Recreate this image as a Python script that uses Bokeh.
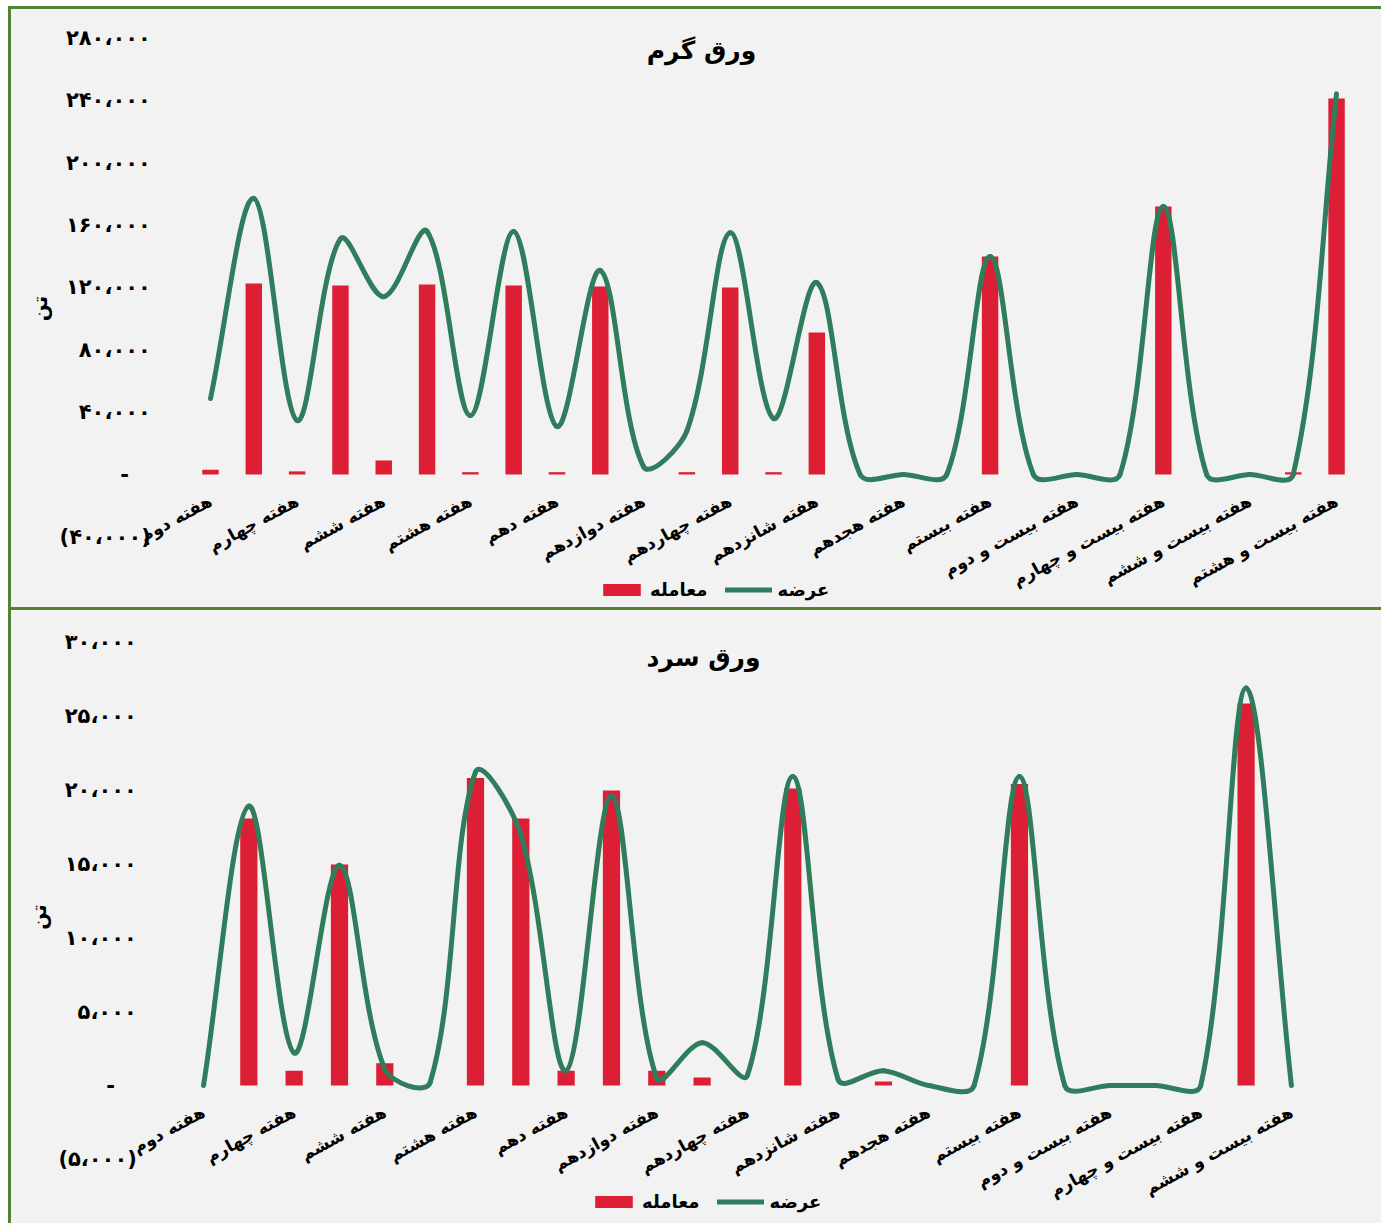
import math
from bokeh.plotting import figure
from bokeh.models import FixedTicker, Label, Legend, LegendItem
from bokeh.layouts import column
from bokeh.embed import file_html
from bokeh.resources import INLINE

FONT = "DejaVu Sans"

# ---------------- data ----------------
hot_weeks = ["هفته دوم", "هفته سوم", "هفته چهارم", "هفته پنجم", "هفته ششم", "هفته هفتم",
             "هفته هشتم", "هفته نهم", "هفته دهم", "هفته یازدهم", "هفته دوازدهم", "هفته سیزدهم",
             "هفته چهاردهم", "هفته پانزدهم", "هفته شانزدهم", "هفته هفدهم", "هفته هجدهم",
             "هفته نوزدهم", "هفته بیستم", "هفته بیست و یکم", "هفته بیست و دوم",
             "هفته بیست و سوم", "هفته بیست و چهارم", "هفته بیست و پنجم", "هفته بیست و ششم",
             "هفته بیست و هفتم", "هفته بیست و هشتم"]
hot_trade = [3000, 122400, 2000, 121200, 9000, 121800, 1500, 121200, 1500, 120500, 0, 1500,
             119900, 1500, 91000, 0, 0, 0, 139700, 0, 0, 0, 171800, 0, 0, 1500, 241000]
hot_supply = [48700, 177000, 34600, 151000, 114000, 155800, 37800, 155800, 30800, 130800, 5000,
              28000, 155000, 35900, 123000, 0, 0, 0, 139700, 0, 0, 0, 171800, 0, 0, 0, 244000]
hot_yticks = [-40000, 0, 40000, 80000, 120000, 160000, 200000, 240000, 280000]
hot_ylabels = ["(۴۰،۰۰۰)", "-\u00a0\u00a0\u00a0", "۴۰،۰۰۰", "۸۰،۰۰۰", "۱۲۰،۰۰۰", "۱۶۰،۰۰۰",
               "۲۰۰،۰۰۰", "۲۴۰،۰۰۰", "۲۸۰،۰۰۰"]

cold_weeks = hot_weeks[:25]
cold_trade = [0, 18060, 1000, 14950, 1500, 0, 20800, 18060, 1000, 19960, 1000, 540, 0, 20100,
              0, 270, 0, 0, 20400, 0, 0, 0, 0, 25850, 0]
cold_supply = [0, 18900, 2200, 14900, 1100, 200, 21200, 17000, 1000, 19600, 500, 2900, 700,
               20900, 400, 1000, 0, 0, 20900, 0, 0, 0, 0, 26900, 0]
cold_yticks = [-5000, 0, 5000, 10000, 15000, 20000, 25000, 30000]
cold_ylabels = ["(۵،۰۰۰)", "-\u00a0\u00a0\u00a0", "۵،۰۰۰", "۱۰،۰۰۰", "۱۵،۰۰۰", "۲۰،۰۰۰",
                "۲۵،۰۰۰", "۳۰،۰۰۰"]

series_names = ["معامله", "عرضه"]
titles = ["ورق گرم", "ورق سرد"]
y_title = "تن"

RED = "#DC1F34"
GREEN = "#2F7D5C"
BG = "#F2F2F2"
FRAME = "#548235"

W = 1373
BORDER = 4


def smooth(xs, ys, sx, sy):
    """Bezier control points of an Excel-like smoothed line (computed in pixel space)."""
    n = len(xs)
    P = [(x * sx, y * sy) for x, y in zip(xs, ys)]
    d = lambda a, b: math.hypot(a[0] - b[0], a[1] - b[1])
    out = {k: [] for k in ["x0", "y0", "x1", "y1", "cx0", "cy0", "cx1", "cy1"]}
    for i in range(n - 1):
        p0, p1, p2, p3 = P[max(i - 1, 0)], P[i], P[i + 1], P[min(i + 2, n - 1)]
        d01, d12, d23 = d(p0, p1), d(p1, p2), d(p2, p3)
        f1 = d12 / (d01 + d12) / 3.0 if d01 + d12 > 0 else 0.0
        f2 = d12 / (d12 + d23) / 3.0 if d12 + d23 > 0 else 0.0
        c1 = (p1[0] + (p2[0] - p0[0]) * f1, p1[1] + (p2[1] - p0[1]) * f1)
        c2 = (p2[0] - (p3[0] - p1[0]) * f2, p2[1] - (p3[1] - p1[1]) * f2)
        out["x0"].append(xs[i]); out["y0"].append(ys[i])
        out["x1"].append(xs[i + 1]); out["y1"].append(ys[i + 1])
        out["cx0"].append(c1[0] / sx); out["cy0"].append(c1[1] / sy)
        out["cx1"].append(c2[0] / sx); out["cy1"].append(c2[1] / sy)
    return out


def build(title, weeks, trade, supply, yticks, ylabels, top_px, height,
          cat0_px, step_px, zero_px, px_per_unit, title_px, legend_px, y_standoff, shadow):
    n = len(weeks)
    xs = list(range(n))
    left_px = 8
    fl, fr = left_px + BORDER, left_px + W - BORDER
    ft, fb = top_px + BORDER, top_px + height - BORDER
    x_range = ((fl - cat0_px) / step_px, (fr - cat0_px) / step_px)
    y_range = ((zero_px - fb) / px_per_unit, (zero_px - ft) / px_per_unit)

    p = figure(width=W, height=height, x_range=x_range, y_range=y_range,
               output_backend="svg", toolbar_location=None, title=None,
               min_border_left=BORDER, min_border_right=BORDER,
               min_border_top=BORDER, min_border_bottom=BORDER,
               background_fill_alpha=0.0, border_fill_alpha=0.0,
               outline_line_color=None)
    p.styles = {"background-color": BG, "box-shadow": shadow}
    p.grid.visible = False

    rb = p.vbar(x=xs, top=trade, width=0.38, fill_color=RED, line_color=None)
    seg = smooth(xs, supply, step_px, px_per_unit)
    rl = p.bezier(x0=seg["x0"], y0=seg["y0"], x1=seg["x1"], y1=seg["y1"],
                  cx0=seg["cx0"], cy0=seg["cy0"], cx1=seg["cx1"], cy1=seg["cy1"],
                  line_color=GREEN, line_width=5, line_cap="round")

    xa = p.xaxis[0]
    ticks = xs[::2]
    xa.ticker = FixedTicker(ticks=ticks)
    xa.major_label_overrides = {i: weeks[i] for i in ticks}
    xa.fixed_location = 0
    xa.axis_line_color = None
    xa.major_tick_line_color = None
    xa.minor_tick_line_color = None
    xa.major_tick_out = 0
    xa.major_label_orientation = 0.5
    xa.major_label_standoff = 25
    xa.major_label_text_font = FONT
    xa.major_label_text_font_style = "bold"
    xa.major_label_text_font_size = "17px"
    xa.major_label_text_color = "black"

    ya = p.yaxis[0]
    ya.ticker = FixedTicker(ticks=yticks)
    ya.major_label_overrides = {v: s for v, s in zip(yticks, ylabels)}
    ya.fixed_location = -0.5
    ya.axis_line_color = None
    ya.major_tick_line_color = None
    ya.minor_tick_line_color = None
    ya.major_tick_out = 0
    ya.major_label_standoff = y_standoff
    ya.major_label_text_font = FONT
    ya.major_label_text_font_style = "bold"
    ya.major_label_text_font_size = "21px"
    ya.major_label_text_color = "black"
    ya.axis_label = y_title
    ya.axis_label_text_font = FONT
    ya.axis_label_text_font_style = "bold"
    ya.axis_label_text_font_size = "20px"
    ya.axis_label_text_color = "black"
    ya.axis_label_standoff = 4

    p.add_layout(Label(x=(title_px[0] - cat0_px) / step_px,
                       y=(zero_px - title_px[1]) / px_per_unit,
                       text=title, text_align="center", text_baseline="middle",
                       text_font=FONT, text_font_style="bold",
                       text_font_size="25px", text_color="black"))

    leg = Legend(items=[LegendItem(label=series_names[0], renderers=[rb]),
                        LegendItem(label=series_names[1], renderers=[rl])],
                 orientation="horizontal",
                 location=(legend_px[0] - fl, fb - legend_px[1]),
                 glyph_width=47, glyph_height=15, label_standoff=5, spacing=18,
                 padding=0, margin=0, border_line_color=None, background_fill_alpha=0.0,
                 label_text_font=FONT, label_text_font_style="bold",
                 label_text_font_size="18px", label_text_color="black")
    p.add_layout(leg)
    return p


p1 = build(titles[0], hot_weeks, hot_trade, hot_supply, hot_yticks, hot_ylabels,
           top_px=6, height=604, cat0_px=210, step_px=43.31, zero_px=474,
           px_per_unit=1.56 / 1000, title_px=(701, 50), legend_px=(598, 600),
           y_standoff=38,
           shadow="inset 3px 3px 0 0 %s, inset 0 -3px 0 0 %s" % (FRAME, FRAME))
p2 = build(titles[1], cold_weeks, cold_trade, cold_supply, cold_yticks, cold_ylabels,
           top_px=610, height=613, cat0_px=203, step_px=45.33, zero_px=1085,
           px_per_unit=14.78 / 1000, title_px=(703, 657), legend_px=(590, 1212),
           y_standoff=44,
           shadow="inset 3px 0 0 0 %s" % FRAME)

layout = column(p1, p2, spacing=0, margin=(6, 0, 0, 8))
open("out.html", "w").write(file_html(layout, INLINE))
